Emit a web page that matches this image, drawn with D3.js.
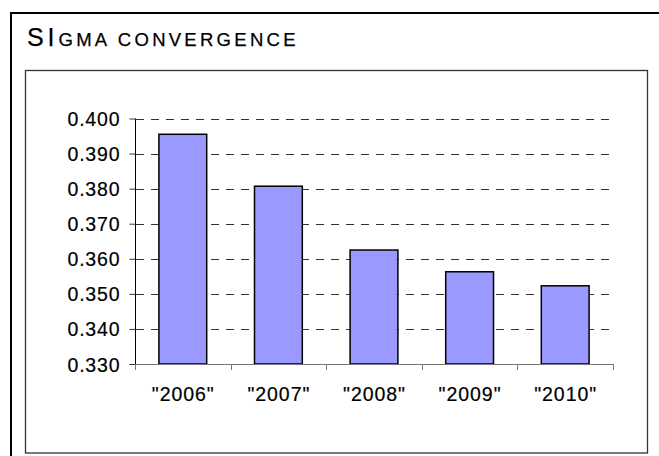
<!DOCTYPE html>
<html><head><meta charset="utf-8">
<script src="https://cdn.jsdelivr.net/npm/d3@7/dist/d3.min.js"></script>
<style>
html,body{margin:0;padding:0;background:#fff;}
svg{display:block;font-family:"Liberation Sans",Arial,sans-serif;}
</style></head>
<body>
<script>
const categories = ['"2006"', '"2007"', '"2008"', '"2009"', '"2010"'];
const values = [0.3955, 0.3807, 0.3625, 0.3563, 0.3523];
const yTicks = [0.330, 0.340, 0.350, 0.360, 0.370, 0.380, 0.390, 0.400];

const W = 659, H = 456;
const svg = d3.select("body").append("svg").attr("width", W).attr("height", H);

// outer frame (cropped)
svg.append("path").attr("d", `M11,${H} L11,13 L${W},13`)
  .attr("fill", "none").attr("stroke", "#000").attr("stroke-width", 2);

// title
const t = svg.append("text").attr("y", 46).style("fill", "#000")
  .style("stroke", "#000").style("stroke-width", "0.25px");
t.append("tspan").attr("x", 27).style("font-size", "25px").text("S");
t.append("tspan").attr("x", 47.5).style("font-size", "25px").text("I");
t.append("tspan").attr("x", 58.5).style("font-size", "18.5px")
  .attr("textLength", 237).attr("lengthAdjust", "spacing").text("GMA CONVERGENCE");

// inner frame
svg.append("rect").attr("x", 25.5).attr("y", 70.5).attr("width", 622).attr("height", 382.5)
  .attr("fill", "#fff").attr("stroke", "#333").attr("stroke-width", 1.3);

const x = d3.scaleBand().domain(categories).range([135, 613]).paddingInner(0.5).paddingOuter(0.25);
const y = d3.scaleLinear().domain([0.33, 0.40]).range([364, 118.5]);

// gridlines
svg.append("g").selectAll("line").data(yTicks.filter(d => d > 0.33)).join("line")
  .attr("x1", 135).attr("x2", 613)
  .attr("y1", d => Math.round(y(d)) + 0.5).attr("y2", d => Math.round(y(d)) + 0.5)
  .attr("stroke", "#333").attr("stroke-width", 1)
  .attr("stroke-dasharray", "8,7").attr("stroke-dashoffset", -1);

// bars
svg.append("g").selectAll("rect").data(values).join("rect")
  .attr("x", (d, i) => x(categories[i]))
  .attr("y", d => y(d))
  .attr("width", x.bandwidth())
  .attr("height", d => y(0.33) - y(d))
  .attr("fill", "#9999FF").attr("stroke", "#000").attr("stroke-width", 1.5);

// y axis
const ya = svg.append("g").attr("transform", "translate(135.5,0)")
  .call(d3.axisLeft(y).tickValues(yTicks).tickSize(6).tickFormat(d3.format(".3f")));
ya.attr("font-size", null).attr("font-family", null);
ya.select(".domain").attr("stroke", "#000").attr("d", `M0,${y(0.4)}V${y(0.33)}`);
ya.selectAll(".tick line").attr("stroke", "#333");
ya.selectAll(".tick text").attr("x", -16).attr("dy", "0.36em")
  .style("font-size", "19.5px").style("fill", "#000")
  .style("stroke", "#000").style("stroke-width", "0.2px")
  .attr("textLength", 52).attr("lengthAdjust", "spacing");

// x axis
const step = x.step();
const bounds = d3.range(categories.length + 1).map(i => x.range()[0] + i * step);
const xa = svg.append("g");
xa.append("line").attr("x1", 135).attr("x2", 613).attr("y1", 364.5).attr("y2", 364.5)
  .attr("stroke", "#777").attr("stroke-width", 1.2);
xa.selectAll("line.tk").data(bounds).join("line").attr("class", "tk")
  .attr("x1", d => Math.round(d) + 0.5).attr("x2", d => Math.round(d) + 0.5)
  .attr("y1", 364).attr("y2", 370).attr("stroke", "#777");
xa.selectAll("text").data(categories).join("text")
  .attr("x", d => x(d) + x.bandwidth() / 2)
  .attr("y", 401).attr("text-anchor", "middle")
  .style("font-size", "19.5px").style("fill", "#000")
  .style("stroke", "#000").style("stroke-width", "0.2px")
  .attr("textLength", 62).attr("lengthAdjust", "spacing")
  .text(d => d);
</script>
</body></html>
